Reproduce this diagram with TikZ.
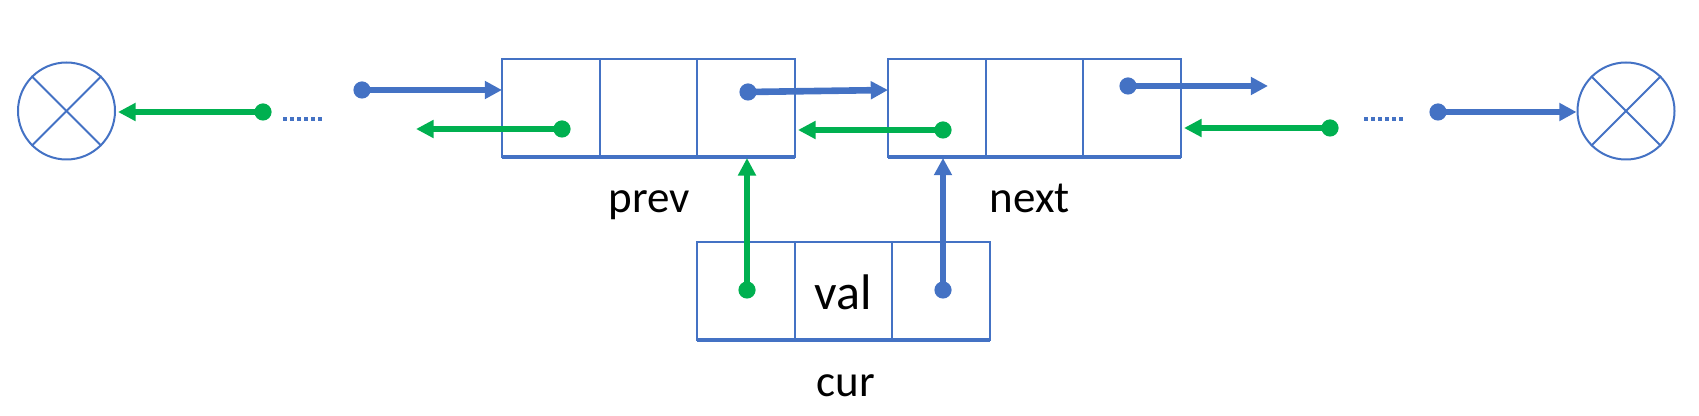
\documentclass[tikz,border=0pt]{standalone}
\usepackage{fontspec}
\setmainfont{Carlito}
\usetikzlibrary{arrows.meta,calc}
\definecolor{lblue}{HTML}{4472C4}
\definecolor{lgreen}{HTML}{00B050}
\begin{document}
\begin{tikzpicture}[x=0.5pt,y=-0.5pt,
  cell/.style={draw=lblue,line width=1pt,minimum width=48.8pt,minimum height=49pt,inner sep=0pt,outer sep=0pt},
  nullc/.style={draw=lblue,circle,line width=1pt,minimum size=48.5pt,inner sep=0pt},
  gdot/.style={circle,fill=lgreen,minimum size=8.6pt,inner sep=0pt},
  bdot/.style={circle,fill=lblue,minimum size=8.6pt,inner sep=0pt},
  garrow/.style={draw=lgreen,line width=2.9pt,-{Triangle[length=8.8pt,width=8.6pt]}},
  barrow/.style={draw=lblue,line width=3.3pt,-{Triangle[length=8.6pt,width=8.6pt]}},
  bottomline/.style={draw=lblue,line width=2pt},
  ellip/.style={draw=lblue,line width=2pt,dash pattern=on 2pt off 1.5pt},
  lbl/.style={font=\fontsize{22.5}{27}\selectfont,anchor=base,inner sep=0pt}
]
\useasboundingbox (0,0) rectangle (1699,416);

% null circles
\node[nullc] (lc) at (66.5,111) {};
\node[nullc] (rc) at (1626,111) {};
\foreach \c in {lc,rc}{
  \draw[lblue,line width=1pt] (\c.45) -- (\c.225);
  \draw[lblue,line width=1pt] (\c.135) -- (\c.315);
}

% prev node
\node[cell] (p1) at (550.8,108) {};
\node[cell] (p2) at (648.5,108) {};
\node[cell] (p3) at (746.2,108) {};
\draw[bottomline] (p1.south west) -- (p3.south east);
% next node
\node[cell] (n1) at (936.8,108) {};
\node[cell] (n2) at (1034.5,108) {};
\node[cell] (n3) at (1132.2,108) {};
\draw[bottomline] (n1.south west) -- (n3.south east);
% cur node
\node[cell] (c1) at (745.8,291.5) {};
\node[cell] (c2) at (843.5,291.5) {};
\node[cell] (c3) at (941.2,291.5) {};
\draw[bottomline] (c1.south west) -- (c3.south east);
\node[lbl,font=\fontsize{25}{30}\selectfont] (val) at (843.5,310) {val};

% labels
\node[lbl] (prevl) at (649,213) {prev};
\node[lbl] (nextl) at (1030,213) {next};
\node[lbl] (curl) at (846,397) {cur};

% dots
\node[gdot] (gd1) at (263,112) {};
\node[bdot] (bd1) at (362,90) {};
\node[gdot] (gd2) at (562,129) {};
\node[bdot] (bd2) at (748,92) {};
\node[gdot] (gd3) at (943,130) {};
\node[bdot] (bd3) at (1128,86) {};
\node[gdot] (gd4) at (1330,128) {};
\node[bdot] (bd4) at (1438,112) {};
\node[gdot] (gd5) at (747,290) {};
\node[bdot] (bd5) at (943,290) {};

% free ends
\coordinate (g2t) at (416,129);
\coordinate (b2t) at (888,90);
\coordinate (b3t) at (1268,86);
\coordinate (el1a) at (283,119);
\coordinate (el1b) at (322,119);
\coordinate (el2a) at (1364,119);
\coordinate (el2b) at (1404,119);

% ellipses
\draw[ellip] (el1a) -- (el1b);
\draw[ellip] (el2a) -- (el2b);

% arrows
\draw[garrow] (gd1.center) -- ([xshift=1pt]gd1.center -| lc.east);
\draw[barrow] (bd1.center) -- (bd1.center -| p1.west);
\draw[garrow] (gd2.center) -- (g2t);
\draw[barrow] (bd2.center) -- (b2t);
\draw[garrow] (gd3.center) -- ([xshift=1.5pt]gd3.center -| p3.east);
\draw[barrow] (bd3.center) -- (b3t);
\draw[garrow] (gd4.center) -- ([xshift=1.5pt]gd4.center -| n3.east);
\draw[barrow] (bd4.center) -- (bd4.center -| rc.west);
\draw[garrow] (gd5.center) -- ([yshift=-0.5pt]gd5.center |- p3.south);
\draw[barrow] (bd5.center) -- ([yshift=-0.5pt]bd5.center |- n1.south);
\end{tikzpicture}
\end{document}
